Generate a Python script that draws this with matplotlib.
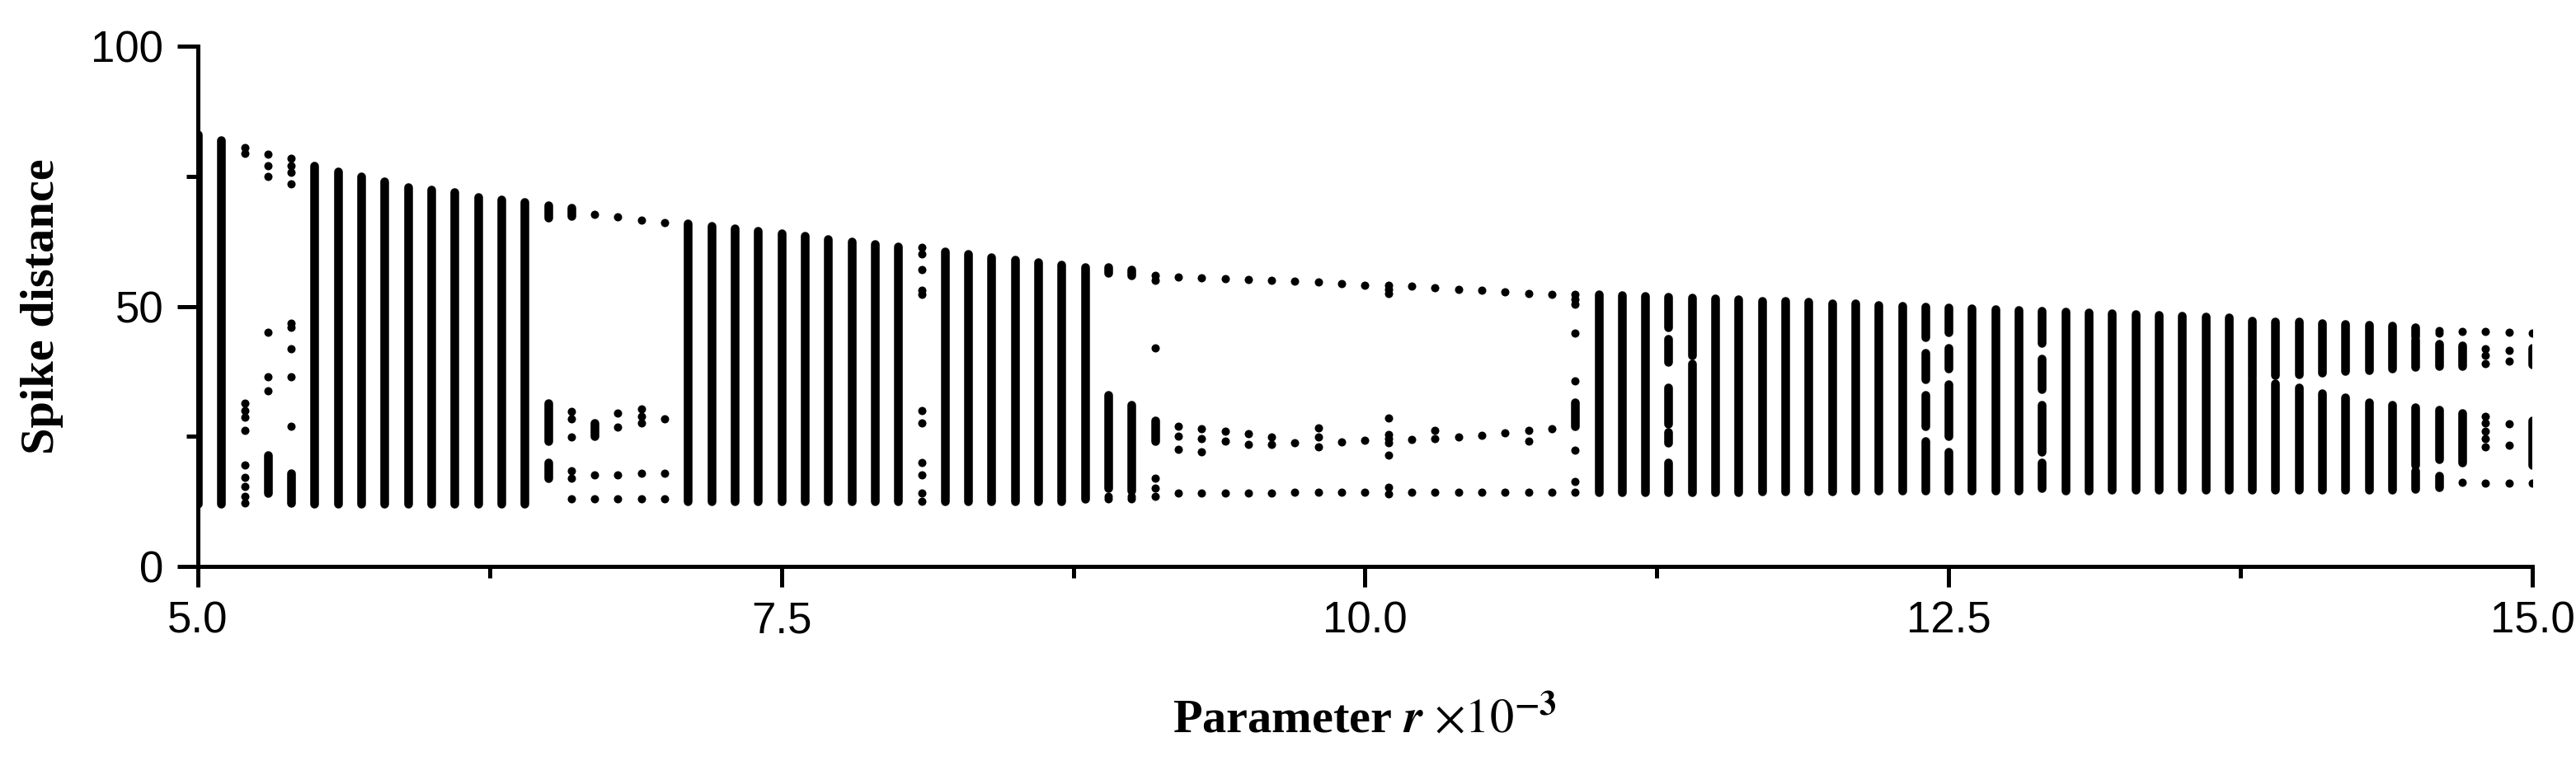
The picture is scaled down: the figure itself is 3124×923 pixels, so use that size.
import matplotlib
matplotlib.use("Agg")
import matplotlib.pyplot as plt
from matplotlib.ticker import MultipleLocator, FormatStrFormatter

# dense (chaotic) parts of each column: r, lower and upper spike distance
seg_r = [5.0, 5.1,
         5.5, 5.6, 5.7, 5.8, 5.9, 6.0, 6.1, 6.2, 6.3, 6.4,
         6.5, 6.5, 6.5, 6.6, 6.7, 5.3, 5.4,
         7.1, 7.2, 7.3, 7.4, 7.5, 7.6, 7.7, 7.8, 7.9, 8.0,
         8.2, 8.3, 8.4, 8.5, 8.6, 8.7, 8.8,
         8.9, 8.9, 9.0, 9.0, 9.1, 10.9,
         11.0, 11.1, 11.2,
         11.3, 11.3, 11.3, 11.3, 11.3, 11.4, 11.4,
         11.5, 11.6, 11.7, 11.8, 11.9, 12.0, 12.1, 12.2, 12.3,
         12.4, 12.4, 12.4, 12.4, 12.5, 12.5, 12.5, 12.5,
         12.6, 12.7, 12.8, 12.9, 12.9, 12.9, 12.9,
         13.0, 13.1, 13.2, 13.3, 13.4, 13.5, 13.6, 13.7,
         13.8, 13.8, 13.9, 13.9, 14.0, 14.0, 14.1, 14.1, 14.2, 14.2,
         14.3, 14.3, 14.4, 14.4, 14.5, 14.5, 14.5, 14.5,
         14.6, 14.6, 14.6, 14.7, 14.7, 15.0, 15.0]
seg_lo = [12.0, 12.0,
          12.0, 12.0, 12.0, 12.0, 12.0, 12.0, 12.0, 12.0, 12.0, 12.0,
          67.1, 24.0, 17.0, 67.4, 25.0, 14.0, 12.1,
          12.5, 12.5, 12.5, 12.5, 12.5, 12.5, 12.5, 12.5, 12.5, 12.5,
          12.5, 12.5, 12.5, 12.5, 12.5, 12.5, 13.0,
          56.5, 15.0, 56.0, 14.5, 24.0, 27.0,
          14.2, 14.2, 14.3,
          45.9, 39.3, 27.4, 23.8, 14.3, 40.5, 14.3,
          14.3, 14.3, 14.4, 14.4, 14.4, 14.4, 14.5, 14.5, 14.5,
          44.0, 36.0, 27.0, 14.5, 45.0, 38.0, 25.0, 14.5,
          14.6, 14.6, 14.6, 43.0, 34.0, 22.0, 15.0,
          14.6, 14.6, 14.7, 14.7, 14.7, 14.7, 14.7, 14.7,
          36.4, 14.7, 36.7, 14.7, 36.9, 14.7, 37.2, 14.7, 37.5, 14.7,
          37.7, 14.7, 38.0, 14.7, 38.3, 44.2, 19.5, 14.9,
          38.5, 20.5, 15.2, 38.5, 20.0, 38.8, 19.5]
seg_hi = [83.0, 82.0,
          77.0, 76.0, 75.0, 74.0, 73.0, 72.5, 72.0, 71.0, 70.5, 70.0,
          69.5, 31.4, 20.0, 68.9, 27.6, 21.3, 17.9,
          66.0, 65.5, 65.0, 64.5, 64.0, 63.5, 63.0, 62.5, 62.0, 61.5,
          60.5, 60.0, 59.5, 59.0, 58.5, 58.0, 57.5,
          57.5, 33.0, 57.0, 31.0, 28.0, 31.6,
          52.3, 52.2, 52.0,
          51.8, 43.8, 34.3, 25.8, 20.0, 51.6, 39.0,
          51.5, 51.3, 51.1, 51.0, 50.8, 50.6, 50.5, 50.3, 50.1,
          50.0, 41.0, 33.0, 24.0, 49.8, 42.0, 35.0, 22.0,
          49.6, 49.5, 49.3, 49.2, 40.0, 31.0, 20.0,
          49.0, 48.8, 48.7, 48.5, 48.3, 48.2, 48.0, 47.9,
          47.3, 35.9, 47.1, 35.1, 47.0, 34.3, 46.8, 33.2, 46.6, 32.4,
          46.4, 31.6, 46.2, 31.1, 43.6, 46.0, 30.6, 18.4,
          42.8, 30.1, 17.4, 42.5, 29.5, 42.0, 28.0]

# isolated (periodic) points
pt_r = ([5.2] * 11 + [5.3] * 6 + [5.4] * 9
        + [6.6] * 6 + [6.7] * 3 + [6.8] * 5 + [6.9] * 6 + [7.0] * 4
        + [8.1] * 11 + [8.9] * 2 + [9.0] * 2
        + [9.1] * 6 + [9.2] * 5 + [9.3] * 5 + [9.4] * 4 + [9.5] * 4 + [9.6] * 4
        + [9.7] * 3 + [9.8] * 5 + [9.9] * 3 + [10.0] * 3 + [10.1] * 10
        + [10.2] * 3 + [10.3] * 4 + [10.4] * 3 + [10.5] * 3 + [10.6] * 3
        + [10.7] * 4 + [10.8] * 3 + [10.9] * 8
        + [14.6] * 2 + [14.7] * 2 + [14.8] * 10 + [14.9] * 6 + [15.0] * 2)
pt_y = ([80.5, 79.5, 31.4, 30.0, 28.7, 26.2, 19.5, 17.1, 15.3, 13.5, 12.1]
        + [79.3, 77.0, 75.0, 45.0, 36.4, 33.8]
        + [78.5, 77.0, 75.8, 73.5, 46.7, 45.9, 41.9, 36.5, 26.9]
        + [29.8, 28.4, 24.9, 18.4, 17.0, 12.9]
        + [67.7, 17.6, 12.9]
        + [67.2, 29.5, 26.7, 17.6, 12.9]
        + [66.6, 30.3, 28.9, 17.9, 12.9, 27.5]
        + [66.1, 28.4, 17.9, 12.9]
        + [61.3, 60.0, 57.0, 53.1, 52.3, 30.0, 27.5, 20.0, 17.5, 14.0, 12.5]
        + [13.0, 13.5] + [13.0, 13.5]
        + [56.0, 55.0, 42.0, 17.0, 15.0, 13.5]
        + [55.7, 27.0, 25.0, 22.5, 14.0]
        + [55.5, 26.5, 24.5, 22.0, 14.0]
        + [55.3, 26.0, 24.0, 14.0]
        + [55.2, 25.5, 23.5, 14.0]
        + [55.0, 24.8, 23.5, 14.0]
        + [54.9, 23.7, 14.2]
        + [54.7, 26.6, 24.8, 23.0, 14.2]
        + [54.4, 23.9, 14.2]
        + [54.1, 24.2, 14.2]
        + [54.1, 53.3, 52.5, 28.5, 25.3, 24.5, 23.7, 21.3, 15.2, 13.9]
        + [53.9, 24.4, 14.2]
        + [53.6, 26.1, 24.5, 14.2]
        + [53.3, 24.8, 14.2]
        + [53.1, 25.1, 14.2]
        + [52.8, 25.6, 14.2]
        + [52.5, 26.1, 24.0, 14.2]
        + [52.3, 26.4, 14.2]
        + [52.3, 51.3, 50.4, 44.9, 35.6, 22.4, 16.3, 14.2]
        + [45.3, 44.8] + [45.2, 16.2]
        + [45.1, 41.8, 40.5, 39.0, 28.8, 27.5, 26.0, 24.5, 23.0, 16.0]
        + [45.0, 41.5, 39.5, 27.4, 23.2, 16.0]
        + [44.9, 16.0])

plt.rcParams['font.family'] = ['Liberation Sans', 'DejaVu Sans']
plt.rcParams['mathtext.fontset'] = 'stix'

fig = plt.figure(figsize=(15.62, 4.615), dpi=200)
ax = fig.add_axes([0.0768, 0.256, 0.9062, 0.683])

ax.vlines(seg_r, seg_lo, seg_hi, colors='black', linewidth=3.8, capstyle='round')
ax.plot(pt_r, pt_y, 'o', color='black', markersize=3.6, markeredgewidth=0)

ax.set_xlim(5.0, 15.0)
ax.set_ylim(0, 100)
ax.xaxis.set_major_locator(MultipleLocator(2.5))
ax.xaxis.set_minor_locator(MultipleLocator(1.25))
ax.yaxis.set_major_locator(MultipleLocator(50))
ax.yaxis.set_minor_locator(MultipleLocator(25))
ax.xaxis.set_major_formatter(FormatStrFormatter('%.1f'))
for s in ['top', 'right']:
    ax.spines[s].set_visible(False)
for s in ['left', 'bottom']:
    ax.spines[s].set_linewidth(1.8)
ax.tick_params(which='major', length=9, width=1.8, labelsize=19, pad=6)
ax.tick_params(which='minor', length=5, width=1.8)

ax.set_ylabel('Spike distance', family='Liberation Serif', fontweight='bold', fontsize=21, labelpad=12)
ax.set_xlabel(r'Parameter $\mathbfit{r}$ $\times 10^{\mathbf{-3}}$', family='Liberation Serif',
              fontweight='bold', fontsize=21, labelpad=24)

fig.savefig('out.png', dpi=200)
